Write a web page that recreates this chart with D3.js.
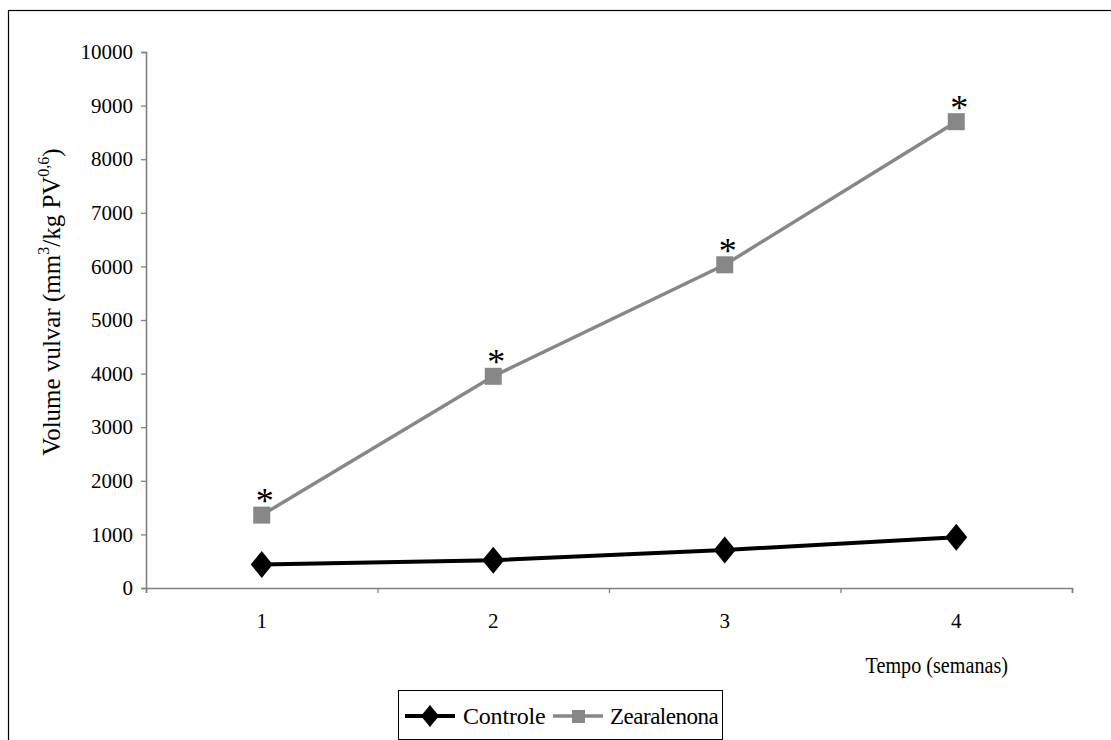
<!DOCTYPE html>
<html><head><meta charset="utf-8">
<script src="https://cdn.jsdelivr.net/npm/d3@7"></script>
<style>
body{margin:0;background:#fff;}
svg{display:block;}
</style></head>
<body>
<svg id="chart" width="1111" height="740"></svg>
<script>
const categories = ["1","2","3","4"];
const controle = [440, 520, 710, 945];
const zearalenona = [1360, 3950, 6030, 8700];
const significant = [true, true, true, true];
const yTicks = [0,1000,2000,3000,4000,5000,6000,7000,8000,9000,10000];
const seriesNames = ["Controle","Zearalenona"];

const FONT = '"Liberation Serif", "Times New Roman", Times, serif';
const svg = d3.select("#chart");
const mLeft = 146, mRight = 1072, mTop = 52, mBottom = 588;

svg.append("rect").attr("x",8.5).attr("y",10.5).attr("width",1120).attr("height",760)
  .attr("fill","none").attr("stroke","#000").attr("stroke-width",1.2);

const x = d3.scaleBand().domain(categories).range([mLeft,mRight]).padding(0);
const y = d3.scaleLinear().domain([0,10000]).range([mBottom,mTop]);

const yAxis = svg.append("g").attr("transform",`translate(${mLeft},0)`)
  .call(d3.axisLeft(y).tickValues(yTicks).tickSize(5).tickPadding(8).tickFormat(d3.format("d")));
yAxis.select(".domain").attr("stroke","#808080").attr("stroke-width",1.6);
yAxis.selectAll(".tick line").attr("stroke","#808080").attr("stroke-width",1.3);
yAxis.selectAll(".tick text").attr("font-size",21).attr("fill","#000");

const xLin = d3.scaleLinear().domain([0,4]).range([mLeft,mRight]);
const xAxis = svg.append("g").attr("transform",`translate(0,${mBottom})`)
  .call(d3.axisBottom(xLin).tickValues([0,1,2,3,4]).tickSize(5).tickFormat(""));
xAxis.select(".domain").attr("stroke","#808080").attr("stroke-width",1.6);
xAxis.selectAll(".tick line").attr("stroke","#808080").attr("stroke-width",1.3);
svg.append("g").selectAll("text").data(categories).join("text")
  .attr("x",d=>x(d)+x.bandwidth()/2).attr("y",628)
  .attr("text-anchor","middle").attr("font-size",21).text(d=>d);

const cx = (d,i)=>x(categories[i])+x.bandwidth()/2;

const lineC = d3.line().x((d,i)=>cx(d,i)).y(d=>y(d));
svg.append("path").datum(controle).attr("d",lineC).attr("fill","none")
  .attr("stroke","#000").attr("stroke-width",4);
svg.append("path").datum(zearalenona).attr("d",lineC).attr("fill","none")
  .attr("stroke","#878787").attr("stroke-width",3.5);

const diamond = (px,py,w,h)=>`M${px},${py-h/2}L${px+w/2},${py}L${px},${py+h/2}L${px-w/2},${py}Z`;
svg.append("g").selectAll("path").data(controle).join("path")
  .attr("d",(d,i)=>diamond(cx(d,i),y(d),22,27)).attr("fill","#000");
svg.append("g").selectAll("rect").data(zearalenona).join("rect")
  .attr("x",(d,i)=>cx(d,i)-8.5).attr("y",d=>y(d)-8.5)
  .attr("width",17).attr("height",17).attr("fill","#878787");
svg.append("g").selectAll("text").data(zearalenona.filter((d,i)=>significant[i])).join("text")
  .attr("x",(d,i)=>cx(d,i)+3).attr("y",d=>y(d)-2)
  .attr("text-anchor","middle").attr("font-size",36).text("*");

const yt = svg.append("text").attr("transform","translate(60,302) rotate(-90)")
  .attr("text-anchor","middle").attr("font-size",25);
yt.append("tspan").text("Volume vulvar (mm");
yt.append("tspan").attr("font-size",16).attr("dy",-11).text("3");
yt.append("tspan").attr("dy",11).text("/kg PV");
yt.append("tspan").attr("font-size",16).attr("dy",-11).text("0,6");
yt.append("tspan").attr("dy",11).text(")");

svg.append("text").attr("transform","translate(1008,673) scale(0.84,1)").attr("text-anchor","end")
  .attr("font-size",24).text("Tempo (semanas)");

const lg = svg.append("g");
lg.append("rect").attr("x",398.5).attr("y",690.5).attr("width",324).attr("height",49)
  .attr("fill","#fff").attr("stroke","#000").attr("stroke-width",1);
lg.append("line").attr("x1",405).attr("x2",455).attr("y1",716).attr("y2",716)
  .attr("stroke","#000").attr("stroke-width",4);
lg.append("path").attr("d",diamond(430,716,18,22)).attr("fill","#000");
lg.append("text").attr("x",463).attr("y",724).attr("font-size",24).attr("letter-spacing",-0.2).text(seriesNames[0]);
lg.append("line").attr("x1",553).attr("x2",603).attr("y1",716).attr("y2",716)
  .attr("stroke","#878787").attr("stroke-width",3.5);
lg.append("rect").attr("x",572).attr("y",710).attr("width",13).attr("height",13).attr("fill","#878787");
lg.append("text").attr("x",610).attr("y",724).attr("font-size",23).attr("letter-spacing",-0.5).text(seriesNames[1]);

svg.selectAll("text").style("font-family",FONT).attr("fill","#000");
svg.selectAll("g").attr("font-family",null);
</script>
</body></html>
